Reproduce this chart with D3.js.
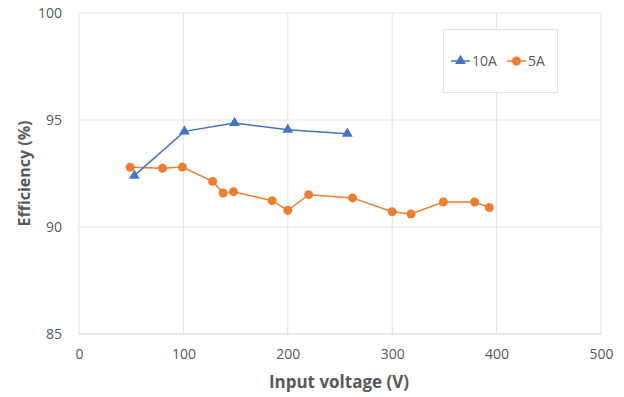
<!DOCTYPE html>
<html>
<head>
<meta charset="utf-8">
<script src="https://cdn.jsdelivr.net/npm/d3@7"></script>
<style>
	body { margin: 0; background: #fff; }
	text { font-family: "Open Sans", "Liberation Sans", sans-serif; }
</style>
</head>
<body>
<svg id="chart"></svg>
<script>
// 10A series
let volt10 = [53, 101, 149, 200, 257];
let eff10 = [92.4, 94.47, 94.86, 94.55, 94.36];

// 5A series
let volt5 = [49, 80, 99, 128, 138, 148, 185, 200, 220, 262, 300, 318, 349, 379, 393];
let eff5 = [92.79, 92.74, 92.8, 92.13, 91.59, 91.65, 91.23, 90.78, 91.51, 91.36, 90.71, 90.61, 91.17, 91.17, 90.91];

let xTicks = [0, 100, 200, 300, 400, 500];
let yTicks = [85, 90, 95, 100];

function makeChart() {
	let w = 624;
	let h = 397;
	let margin = { left: 79, right: 23, top: 13, bottom: 63 };

	let svg = d3.select('#chart')
		.attr('width', w)
		.attr('height', h);

	let x = d3.scaleLinear().domain([0, 500]).range([margin.left, w - margin.right]);
	let y = d3.scaleLinear().domain([85, 100]).range([h - margin.bottom, margin.top]);

	// grid
	svg.append('g')
		.selectAll('line.v')
		.data(xTicks)
		.enter()
		.append('line')
		.attr('x1', d => x(d))
		.attr('x2', d => x(d))
		.attr('y1', y(100))
		.attr('y2', y(85))
		.style('stroke', '#e3e3e3')
		.style('stroke-width', 1);

	svg.append('g')
		.selectAll('line.h')
		.data(yTicks)
		.enter()
		.append('line')
		.attr('x1', x(0))
		.attr('x2', x(500))
		.attr('y1', d => y(d))
		.attr('y2', d => y(d))
		.style('stroke', d => d == 85 ? '#d0d0d0' : '#e3e3e3')
		.style('stroke-width', 1);

	// axes
	let xAxis = svg.append('g')
		.attr('transform', `translate(0, ${y(85)})`)
		.call(d3.axisBottom(x).tickValues(xTicks).tickSize(0).tickPadding(15));
	let yAxis = svg.append('g')
		.attr('transform', `translate(${x(0)}, 0)`)
		.call(d3.axisLeft(y).tickValues(yTicks).tickSize(0).tickPadding(17));
	[xAxis, yAxis].forEach(a => {
		a.select('.domain').remove();
		a.selectAll('text')
			.style('font-size', '14px')
			.style('fill', '#595959')
			.style('font-family', '"Open Sans", sans-serif');
	});

	// axis titles
	svg.append('text')
		.attr('x', 339)
		.attr('y', 388)
		.style('text-anchor', 'middle')
		.style('font-size', '17px')
		.style('font-weight', 'bold')
		.style('fill', '#595959')
		.text('Input voltage (V)');

	svg.append('text')
		.attr('transform', `translate(30, ${(y(85) + y(100)) / 2}) rotate(-90)`)
		.style('text-anchor', 'middle')
		.style('font-size', '16px')
		.style('font-weight', 'bold')
		.style('fill', '#595959')
		.text('Efficiency (%)');

	let line = d3.line().x(d => x(d[0])).y(d => y(d[1]));
	let data5 = volt5.map((v, i) => [v, eff5[i]]);
	let data10 = volt10.map((v, i) => [v, eff10[i]]);

	// 5A
	svg.append('path')
		.datum(data5)
		.attr('d', line)
		.style('fill', 'none')
		.style('stroke', '#ED7D31')
		.style('stroke-width', 1.5);
	svg.selectAll('circle.p5')
		.data(data5)
		.enter()
		.append('circle')
		.attr('cx', d => x(d[0]))
		.attr('cy', d => y(d[1]))
		.attr('r', 4.5)
		.style('fill', '#ED7D31');

	// 10A
	let tri = d3.symbol().type(d3.symbolTriangle).size(50);
	svg.append('path')
		.datum(data10)
		.attr('d', line)
		.style('fill', 'none')
		.style('stroke', '#4472C4')
		.style('stroke-width', 1.5);
	svg.selectAll('path.p10')
		.data(data10)
		.enter()
		.append('path')
		.attr('d', tri)
		.attr('transform', d => `translate(${x(d[0])}, ${y(d[1])})`)
		.style('fill', '#4472C4');

	// legend
	let lg = svg.append('g');
	lg.append('rect')
		.attr('x', 443.5)
		.attr('y', 29.5)
		.attr('width', 114)
		.attr('height', 63)
		.style('fill', '#fff')
		.style('stroke', '#e3e3e3');
	let items = [
		{ name: '10A', color: '#4472C4', x0: 451, shape: 'tri' },
		{ name: '5A', color: '#ED7D31', x0: 507, shape: 'circ' }
	];
	items.forEach(it => {
		lg.append('line')
			.attr('x1', it.x0)
			.attr('x2', it.x0 + 19)
			.attr('y1', 61)
			.attr('y2', 61)
			.style('stroke', it.color)
			.style('stroke-width', 1.5);
		if (it.shape == 'tri') {
			lg.append('path')
				.attr('d', tri)
				.attr('transform', `translate(${it.x0 + 9.5}, 61)`)
				.style('fill', it.color);
		} else {
			lg.append('circle')
				.attr('cx', it.x0 + 9.5)
				.attr('cy', 61)
				.attr('r', 4.5)
				.style('fill', it.color);
		}
		lg.append('text')
			.attr('x', it.x0 + 21)
			.attr('y', 66)
			.style('font-size', '14px')
			.style('fill', '#595959')
			.text(it.name);
	});
}

window.onload = function () {
	makeChart();
}
</script>
</body>
</html>
